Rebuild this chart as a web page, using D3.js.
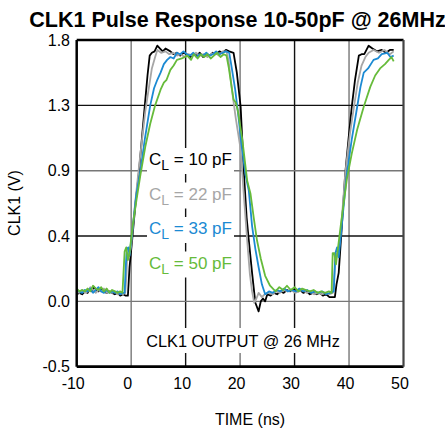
<!DOCTYPE html>
<html><head><meta charset="utf-8">
<script src="https://cdn.jsdelivr.net/npm/d3@7"></script>
<style>body{margin:0;background:#fff}svg{display:block}text{font-family:"Liberation Sans",Arial,sans-serif}</style>
</head><body>
<svg id="c" width="445" height="428"></svg>
<script>
const title = "CLK1 Pulse Response 10-50pF @ 26MHz";
const xTicks = [-10, 0, 10, 20, 30, 40, 50];
const yTicks = [-0.5, -0.04, 0.42, 0.88, 1.34, 1.8];
const yTickLabels = ["-0.5", "0.0", "0.4", "0.9", "1.3", "1.8"];
const legendLabels = ["10 pF", "22 pF", "33 pF", "50 pF"];
const seriesColors = ["#000000", "#a6a6a6", "#1b8ad3", "#66bb3a"];

const cl10 = [[-10,0.01],[-9.5,0.02],[-9,0.01],[-8.5,0.03],[-8,0.02],[-7.6,0.05],[-7.2,0.03],[-6.8,0.06],[-6.4,0.04],[-6,0.03],[-5.5,0.05],[-5,0.03],[-4.5,0.02],[-4,0.03],[-3.5,0.02],[-3,0.01],[-2.5,0.02],[-2,0.0],[-1.5,0.01],[-1,0.0],[-0.6,0.0],
 [-0.3,0.2],[0.2,0.4],[0.8,0.65],[1.4,0.86],[2.0,1.12],[2.6,1.38],[3.0,1.55],[3.4,1.69],[3.8,1.71],[4.3,1.72],[4.8,1.76],[5.3,1.74],[5.8,1.72],[6.3,1.74],[7.2,1.72],[7.8,1.7],[8.4,1.71],[9,1.69],[9.6,1.71],[10.2,1.7],[10.8,1.68],[11.4,1.7],[12,1.69],[12.6,1.71],[13.2,1.68],[13.8,1.7],[14.4,1.69],[15,1.71],[15.6,1.7],[16.2,1.72],[16.8,1.71],[17.4,1.73],[18,1.72],[18.8,1.71],
 [19.4,1.57],[20.1,1.33],[20.7,0.86],[21.2,0.55],[21.6,0.39],[22.2,0.16],[22.8,-0.05],[23.4,-0.11],[23.8,-0.04],[24.2,-0.02],[24.6,-0.04],[25,0.01],[25.6,0.0],[26.2,0.02],[26.8,0.01],[27.4,0.03],[28,0.02],[28.6,0.04],[29.2,0.03],[29.8,0.05],[30.4,0.03],[31,0.04],[31.6,0.02],[32.2,0.03],[32.8,0.01],[33.4,0.02],[34,0.01],[34.6,0.02],[35.2,0.0],[35.8,0.01],[36.4,-0.01],[37,-0.01],[37.4,-0.01],
 [37.7,0.08],[38.1,0.16],[38.7,0.5],[39.3,0.86],[39.9,1.1],[40.5,1.33],[41.1,1.52],[41.8,1.69],[42.3,1.7],[42.8,1.7],[43.6,1.76],[44.3,1.74],[45.1,1.72],[46,1.73],[46.8,1.71],[47.5,1.73],[48.2,1.73]];

const cl22 = [[-10,0.03],[-9.5,0.02],[-9,0.04],[-8.5,0.02],[-8,0.03],[-7.5,0.06],[-7,0.04],[-6.5,0.02],[-6,0.04],[-5.5,0.03],[-5,0.05],[-4.5,0.02],[-4,0.03],[-3.5,0.02],[-3,0.03],[-2.5,0.01],[-2,0.02],[-1.5,0.01],[-1.1,0.02],
 [-0.9,0.12],[-0.7,0.3],[-0.4,0.27],[0,0.35],[0.6,0.6],[1.3,0.86],[2.0,1.1],[2.6,1.3],[3.2,1.45],[3.8,1.6],[4.4,1.68],[4.8,1.73],[5.5,1.71],[6.3,1.72],[7,1.7],[7.7,1.71],[8.4,1.69],[9.1,1.7],[9.8,1.68],[10.5,1.7],[11.2,1.69],[11.9,1.71],[12.6,1.69],[13.3,1.7],[14,1.68],[14.7,1.7],[15.4,1.71],[16.1,1.69],[16.8,1.72],[17.5,1.72],
 [17.9,1.65],[18.5,1.45],[19.2,1.25],[20.1,1.03],[20.7,0.7],[21.3,0.39],[21.8,0.15],[22.2,0.03],[22.6,-0.05],[23.0,-0.02],[23.4,0.02],[24,-0.01],[24.5,0.01],[25.2,0.02],[25.9,0.01],[26.6,0.03],[27.3,0.02],[28,0.04],[28.7,0.03],[29.4,0.04],[30.1,0.02],[30.8,0.03],[31.5,0.04],[32.2,0.02],[32.9,0.03],[33.6,0.01],[34.3,0.02],[35,0.01],[35.7,0.02],[36.4,0.01],[37,0.02],
 [37.2,0.1],[37.6,0.3],[38,0.28],[38.5,0.45],[39.3,0.86],[40.2,1.15],[40.9,1.33],[41.6,1.5],[42.3,1.62],[43,1.68],[43.6,1.71],[44.5,1.73],[45.5,1.71],[46.5,1.73],[47.5,1.7],[48.2,1.72]];

const cl33 = [[-10,0.04],[-9.5,0.03],[-9,0.02],[-8.5,0.04],[-8,0.03],[-7.5,0.05],[-7,0.02],[-6.5,0.04],[-6,0.06],[-5.5,0.03],[-5,0.02],[-4.5,0.04],[-4,0.02],[-3.5,0.03],[-3,0.02],[-2.5,0.03],[-2,0.01],[-1.5,0.02],[-1.2,0.02],
 [-1.0,0.2],[-0.8,0.33],[-0.5,0.34],[-0.3,0.28],[0.2,0.45],[0.9,0.7],[1.7,0.88],[2.5,1.1],[3.5,1.34],[4.2,1.46],[4.8,1.52],[5.4,1.57],[6.0,1.63],[6.6,1.66],[7.2,1.68],[7.8,1.67],[8.4,1.71],[9,1.7],[9.6,1.72],[10.2,1.7],[10.8,1.69],[11.4,1.71],[12,1.68],[12.6,1.7],[13.2,1.69],[13.8,1.71],[14.4,1.69],[15,1.7],[15.6,1.72],[16.2,1.7],[16.8,1.71],[17.4,1.72],[18,1.71],
 [18.4,1.62],[19.1,1.45],[19.7,1.26],[20.3,1.05],[21.0,0.85],[21.6,0.74],[22.2,0.49],[22.8,0.33],[23.4,0.2],[24,0.08],[24.6,0.01],[25.3,0.03],[26,0.02],[26.7,0.04],[27.4,0.03],[28.1,0.05],[28.8,0.03],[29.5,0.04],[30.2,0.03],[30.9,0.05],[31.6,0.03],[32.3,0.04],[33,0.02],[33.7,0.03],[34.4,0.02],[35.1,0.03],[35.8,0.01],[36.5,0.02],[37.2,0.03],
 [37.5,0.3],[37.8,0.34],[38.1,0.27],[38.8,0.55],[39.6,0.86],[40.5,1.1],[41.5,1.33],[42.1,1.47],[42.7,1.57],[43.5,1.6],[44.5,1.66],[45.3,1.67],[46,1.7],[47,1.71],[47.6,1.68],[48.2,1.69]];

const cl50 = [[-10,0.05],[-9.5,0.03],[-9,0.04],[-8.5,0.03],[-8,0.05],[-7.5,0.03],[-7,0.07],[-6.5,0.05],[-6,0.04],[-5.5,0.06],[-5,0.03],[-4.5,0.05],[-4,0.02],[-3.5,0.04],[-3,0.03],[-2.5,0.02],[-2,0.03],[-1.6,0.02],
 [-1.2,0.31],[-0.9,0.34],[-0.6,0.25],[-0.3,0.3],[0.3,0.5],[1.0,0.68],[1.7,0.85],[2.6,1.05],[3.5,1.21],[4.4,1.34],[5.4,1.45],[6.0,1.5],[6.5,1.52],[7.2,1.59],[7.8,1.62],[8.4,1.66],[9.3,1.67],[10.3,1.69],[11,1.66],[11.5,1.7],[12.2,1.67],[12.8,1.7],[13.4,1.68],[14,1.7],[14.6,1.67],[15.2,1.69],[15.8,1.71],[16.4,1.68],[17,1.7],[17.5,1.69],
 [17.9,1.61],[18.4,1.48],[18.8,1.38],[19.2,1.36],[19.6,1.3],[20.4,1.1],[21.3,0.81],[21.9,0.72],[22.5,0.55],[23.1,0.39],[23.8,0.26],[24.6,0.14],[25.5,0.07],[26.5,0.03],[27.2,0.06],[27.9,0.04],[28.6,0.07],[29.3,0.04],[30,0.06],[30.7,0.03],[31.4,0.05],[32.1,0.04],[32.8,0.03],[33.5,0.04],[34.2,0.02],[34.9,0.03],[35.6,0.02],[36.3,0.03],[36.8,0.02],
 [37.0,0.3],[37.3,0.3],[37.6,0.22],[38.5,0.5],[39.6,0.82],[40.5,1.0],[41.5,1.17],[42.7,1.33],[43.9,1.47],[44.8,1.55],[45.7,1.6],[46.6,1.63],[47.3,1.66],[47.8,1.68],[48.2,1.65]];

const series = [cl10, cl22, cl33, cl50];

const svg = d3.select("#c");
const L = 76.7, T = 40, R = 403.5, B = 366.7;
const x = d3.scaleLinear().domain([-10, 50]).range([L, R]);
const y = d3.scaleLinear().domain([-0.5, 1.8]).range([B, T]);

// gridlines
const gridX = xTicks.slice(1, -1);
const gridY = yTicks.slice(1, -1);
svg.append("g").selectAll("line").data(gridX).join("line")
  .attr("x1", d => x(d)).attr("x2", d => x(d)).attr("y1", T).attr("y2", B)
  .attr("stroke", (d, i) => i % 2 === 0 ? "#777" : "#111").attr("stroke-width", 1.4);
svg.append("g").selectAll("line").data(gridY).join("line")
  .attr("x1", L).attr("x2", R).attr("y1", d => y(d)).attr("y2", d => y(d))
  .attr("stroke", (d, i) => i % 2 === 0 ? "#777" : "#111").attr("stroke-width", 1.4);

// text backgrounds
const legY = [165, 199.5, 234, 268.5];
svg.append("g").selectAll("rect").data(legY).join("rect")
  .attr("x", 147).attr("y", d => d - 17).attr("width", 87).attr("height", 26).attr("fill", "#fff");
svg.append("rect").attr("x", 140).attr("y", 328).attr("width", 206).attr("height", 25).attr("fill", "#fff");

// traces
const line = d3.line().x(d => x(d[0])).y(d => y(d[1]));
svg.append("g").selectAll("path").data(series).join("path")
  .attr("d", line).attr("fill", "none")
  .attr("stroke", (d, i) => seriesColors[i]).attr("stroke-width", 1.8)
  .attr("stroke-linejoin", "round");

// frame
svg.append("line").attr("x1", L).attr("x2", R).attr("y1", T).attr("y2", T).attr("stroke", "#000").attr("stroke-width", 2.5);
svg.append("line").attr("x1", L).attr("x2", R).attr("y1", B).attr("y2", B).attr("stroke", "#000").attr("stroke-width", 2.7);
svg.append("line").attr("x1", L).attr("x2", L).attr("y1", T).attr("y2", B).attr("stroke", "#000").attr("stroke-width", 2.5);
svg.append("line").attr("x1", R).attr("x2", R).attr("y1", T).attr("y2", B).attr("stroke", "#444").attr("stroke-width", 2.2);

// tick labels
svg.append("g").selectAll("text").data(yTicks).join("text")
  .attr("x", 70).attr("y", d => y(d)).attr("dy", "0.36em").attr("text-anchor", "end")
  .attr("font-size", 16).text((d, i) => yTickLabels[i]);
svg.append("g").selectAll("text").data(xTicks).join("text")
  .attr("x", d => x(d) - 3.5).attr("y", 389).attr("text-anchor", "middle")
  .attr("font-size", 16).text(d => d);

// axis titles
svg.append("text").attr("x", 250).attr("y", 425).attr("text-anchor", "middle").attr("font-size", 16).text("TIME (ns)");
svg.append("text").attr("transform", "translate(20,203) rotate(-90)").attr("text-anchor", "middle").attr("font-size", 16).text("CLK1 (V)");
svg.append("text").attr("x", 237.5).attr("y", 27).attr("text-anchor", "middle").attr("font-size", 21.5).attr("font-weight", "bold").text(title);

// legend
const lg = svg.append("g").selectAll("text").data(legendLabels).join("text")
  .attr("x", 149).attr("y", (d, i) => legY[i]).attr("font-size", 17).attr("fill", (d, i) => seriesColors[i]);
lg.append("tspan").text("C");
lg.append("tspan").attr("font-size", 14).attr("dy", 5).text("L");
lg.append("tspan").attr("dy", -5).text(d => " = " + d);

svg.append("text").attr("x", 243).attr("y", 347).attr("text-anchor", "middle").attr("font-size", 16.3).text("CLK1 OUTPUT @ 26 MHz");
</script>
</body></html>
